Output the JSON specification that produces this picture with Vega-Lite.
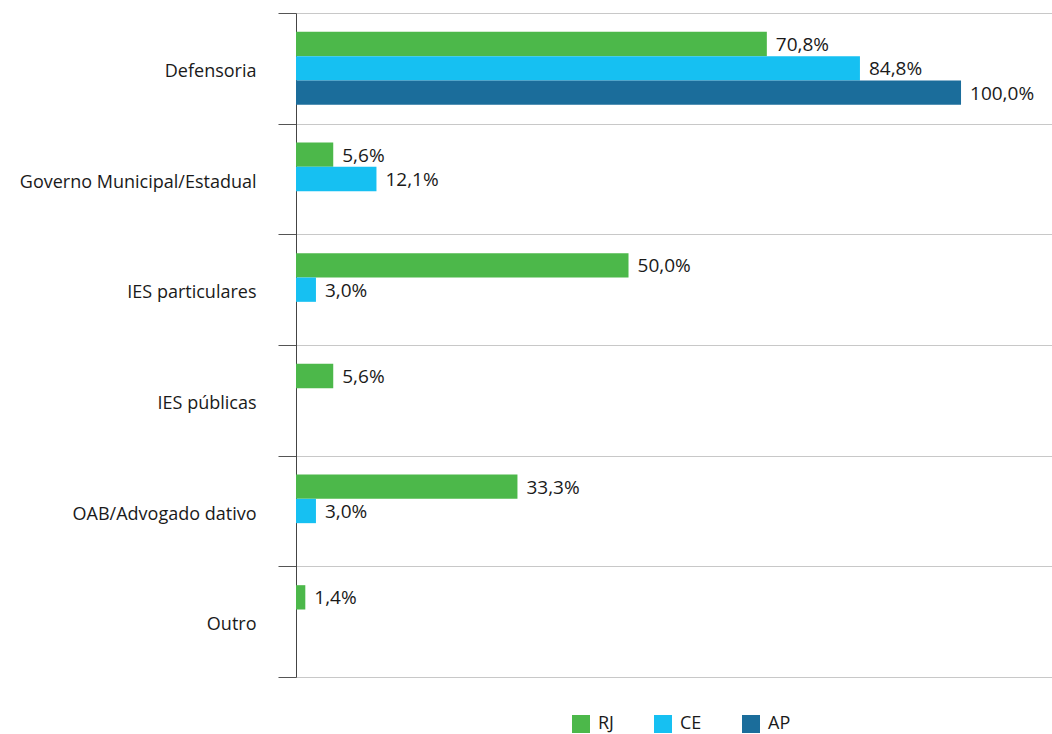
{
  "$schema": "https://vega.github.io/schema/vega-lite/v6.json",
  "width": 756,
  "height": 664,
  "autosize": {"type": "none"},
  "padding": {"left": 296, "top": 13, "right": 0, "bottom": 57},
  "background": "white",
  "config": {
    "font": "Open Sans",
    "view": {"stroke": null},
    "locale": {"number": {"decimal": ",", "thousands": ".", "grouping": [3], "currency": ["", "%"]}}
  },
  "data": {
    "values": [
      {"categoria": "Defensoria", "uf": "RJ", "valor": 70.8},
      {"categoria": "Defensoria", "uf": "CE", "valor": 84.8},
      {"categoria": "Defensoria", "uf": "AP", "valor": 100.0},
      {"categoria": "Governo Municipal/Estadual", "uf": "RJ", "valor": 5.6},
      {"categoria": "Governo Municipal/Estadual", "uf": "CE", "valor": 12.1},
      {"categoria": "IES particulares", "uf": "RJ", "valor": 50.0},
      {"categoria": "IES particulares", "uf": "CE", "valor": 3.0},
      {"categoria": "IES públicas", "uf": "RJ", "valor": 5.6},
      {"categoria": "OAB/Advogado dativo", "uf": "RJ", "valor": 33.3},
      {"categoria": "OAB/Advogado dativo", "uf": "CE", "valor": 3.0},
      {"categoria": "Outro", "uf": "RJ", "valor": 1.4}
    ]
  },
  "encoding": {
    "y": {
      "field": "categoria",
      "type": "nominal",
      "sort": ["Defensoria", "Governo Municipal/Estadual", "IES particulares", "IES públicas", "OAB/Advogado dativo", "Outro"],
      "scale": {"paddingInner": 0, "paddingOuter": 0},
      "axis": {
        "title": null,
        "tickBand": "extent",
        "grid": true,
        "gridColor": "#c8c8c8",
        "gridWidth": 1,
        "domainColor": "#444444",
        "domainWidth": 1,
        "tickColor": "#555555",
        "tickSize": 18,
        "labelPadding": 22,
        "labelOffset": 3,
        "labelFontSize": 18,
        "labelLimit": 400,
        "labelColor": "#1a1a1a",
        "labelFont": "Open Sans"
      }
    },
    "yOffset": {
      "field": "uf",
      "type": "nominal",
      "sort": ["RJ", "CE", "AP"],
      "scale": {"paddingInner": 0, "paddingOuter": 0.775}
    },
    "x": {
      "field": "valor",
      "type": "quantitative",
      "scale": {"domain": [0, 113.68], "nice": false},
      "axis": null
    }
  },
  "layer": [
    {
      "mark": {"type": "bar"},
      "encoding": {
        "color": {
          "field": "uf",
          "type": "nominal",
          "sort": ["RJ", "CE", "AP"],
          "scale": {"domain": ["RJ", "CE", "AP"], "range": ["#4cb84a", "#16c0f2", "#1b6d9b"]},
          "legend": {
            "title": null,
            "orient": "none",
            "legendX": 276,
            "legendY": 702,
            "direction": "horizontal",
            "symbolType": "square",
            "symbolSize": 324,
            "symbolStrokeWidth": 0,
            "symbolOpacity": 1,
            "labelFontSize": 18,
            "labelColor": "#1a1a1a",
            "labelFont": "Open Sans",
            "columnPadding": 40,
            "labelOffset": 8
          }
        }
      }
    },
    {
      "mark": {"type": "text", "align": "left", "baseline": "middle", "dx": 9, "dy": 1, "fontSize": 19, "color": "#1a1a1a", "font": "Open Sans"},
      "encoding": {
        "text": {"field": "valor", "type": "quantitative", "format": "$.1f"}
      }
    }
  ]
}
